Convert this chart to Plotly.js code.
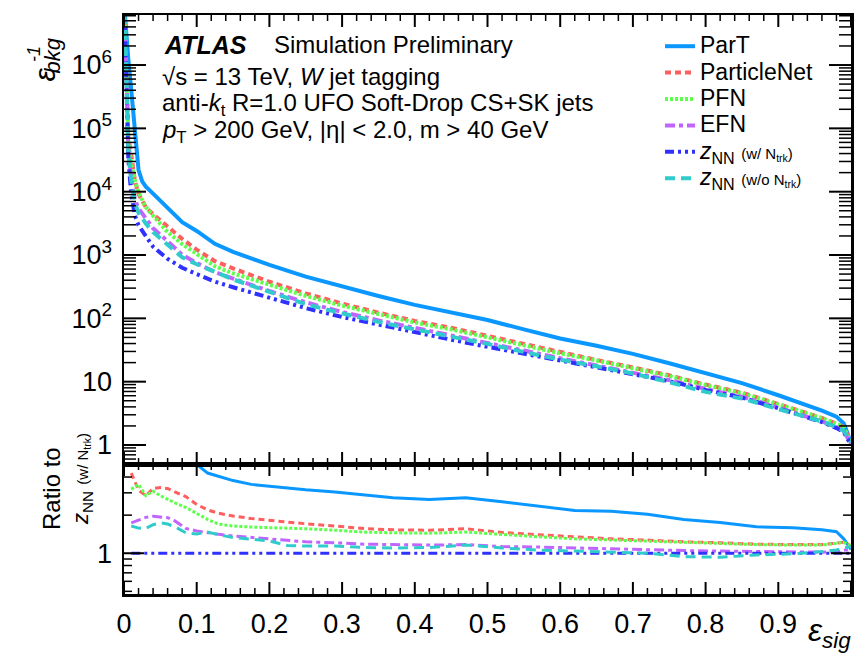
<!DOCTYPE html>
<html><head><meta charset="utf-8">
<script src="https://cdn.plot.ly/plotly-3.0.1.min.js"></script>
<style>body{margin:0;background:#fff}</style>
</head><body><div id="plot" style="width:856px;height:656px"></div>
<script>
// ---- data: signal efficiency grid and inverse background efficiency (upper panel)
const effSig = [0.001,0.003,0.006,0.01,0.015,0.02,0.025,0.03,0.04,0.06,0.08,0.1,0.125,0.15,0.2,0.25,0.3,0.35,0.4,0.45,0.5,0.55,0.6,0.65,0.7,0.75,0.8,0.85,0.9,0.93,0.96,0.98,0.99,1.0];
const partInvBkg = [7e6,3e6,1.2e6,4e5,1e5,2.2e4,1.45e4,1.2e4,9300,5400,3300,2400,1500,1120,700,455,318,225,163,126,94,67,48,37,27.5,19.5,13.5,9.5,6.1,4.7,3.5,2.8,2.2,1.1];
const particleNetInvBkg = [6.5e6,6e5,7e4,3.9e4,1.5e4,9150,7000,5700,4400,2830,1800,1215,800,614,378,248,171,123,91,71,53,39,29,22,16.8,12.6,9.0,6.7,4.45,3.5,2.67,2.18,1.92,1.1];
const pfnInvBkg = [6.2e6,5.5e5,6e4,2.9e4,1.5e4,9700,7200,5700,4170,2310,1490,1025,665,512,336,226,159,115,86,67,50,37.4,28,21.6,16.4,12.3,8.8,6.55,4.37,3.45,2.65,2.15,1.9,1.1];
const efnInvBkg = [6.6e6,5e5,4.5e4,1.57e4,7600,5450,4600,3900,2640,1650,1010,750,537,425,270,179,126,93,70,53.5,41,31,23.5,18.2,14,10.6,7.65,5.77,3.9,3.07,2.35,1.9,1.65,1.05];
const zNNwInvBkg = [6.3e6,4e5,3.2e4,9000,4200,2950,2400,2000,1350,870,630,500,380,310,209,145,105,79,60,46,35.5,27.5,21.4,17,13.2,10.2,7.4,5.6,3.8,3.0,2.3,1.85,1.6,1.0];
const zNNwoInvBkg = [6.4e6,4.5e5,4e4,1.48e4,6700,4600,3700,3150,2300,1480,920,715,535,412,262,167,120,88,67,52,39.5,29.5,22.3,17.5,13.5,9.8,6.9,5.4,3.75,3.0,2.35,1.92,1.68,1.1];

// ---- data: ratio to z_NN (w/ N_trk) (lower panel)
const ratioEffSig = [0.01,0.02,0.03,0.04,0.05,0.06,0.07,0.085,0.1,0.115,0.13,0.15,0.175,0.2,0.225,0.25,0.29,0.33,0.37,0.42,0.47,0.52,0.57,0.62,0.67,0.72,0.77,0.82,0.87,0.92,0.96,0.98,0.99,1.0];
const partRatio = [20,9,7,7,6.5,6.2,6.0,5.7,5.05,4.3,4.05,3.75,3.5,3.38,3.25,3.17,3.05,2.9,2.75,2.66,2.74,2.55,2.35,2.18,2.15,2.03,1.85,1.75,1.62,1.59,1.53,1.48,1.3,1.07];
const particleNetRatio = [4.3,3.15,2.85,3.25,3.3,3.25,3.05,2.8,2.43,2.2,2.07,1.97,1.88,1.81,1.76,1.71,1.63,1.57,1.53,1.52,1.56,1.46,1.4,1.34,1.3,1.27,1.23,1.21,1.18,1.17,1.17,1.2,1.22,1.15];
const pfnRatio = [3.2,3.5,2.85,3.09,2.85,2.66,2.5,2.3,2.05,1.85,1.7,1.64,1.61,1.6,1.58,1.56,1.52,1.47,1.45,1.44,1.47,1.4,1.35,1.3,1.27,1.24,1.21,1.19,1.17,1.16,1.16,1.2,1.22,1.15];
const efnRatio = [1.74,1.82,1.92,1.96,1.94,1.91,1.8,1.57,1.5,1.45,1.41,1.37,1.33,1.29,1.25,1.23,1.21,1.18,1.17,1.16,1.17,1.13,1.12,1.1,1.08,1.07,1.05,1.04,1.03,1.03,1.02,1.03,1.05,1.08];
const zNNwRatio = [1,1,1,1,1,1,1,1,1,1,1,1,1,1,1,1,1,1,1,1,1,1,1,1,1,1,1,1,1,1,1,1,1,1];
const zNNwoRatio = [1.64,1.58,1.57,1.68,1.74,1.7,1.62,1.45,1.42,1.47,1.4,1.33,1.29,1.25,1.15,1.14,1.14,1.11,1.1,1.11,1.16,1.1,1.06,1.04,1.03,1.0,0.94,0.93,0.97,0.99,1.03,1.06,1.1,1.13];

const modelNames = [
  "ParT",
  "ParticleNet",
  "PFN",
  "EFN",
  "<i>z</i><sub>NN</sub> <span style='font-size:15px'>(w/ N<sub>trk</sub>)</span>",
  "<i>z</i><sub>NN</sub> <span style='font-size:15px'>(w/o N<sub>trk</sub>)</span>"
];
const yTickVals = [1,10,100,1000,10000,100000,1000000];
const yTickText = ["1","10","10<sup>2</sup>","10<sup>3</sup>","10<sup>4</sup>","10<sup>5</sup>","10<sup>6</sup>"];

// ---- styles
const styles = [
  {color:"#0a97ff", width:4, dash:"solid"},
  {color:"#ff5e5e", width:4, dash:"6px,4px"},
  {color:"#5cff4a", width:4, dash:"3px,2px"},
  {color:"#c265ff", width:4, dash:"10px,4px,4px,4px"},
  {color:"#3030ff", width:4, dash:"9px,4px,3px,4px,3px,4px"},
  {color:"#30cccc", width:4, dash:"10px,6px"}
];
const mainSeries = [partInvBkg, particleNetInvBkg, pfnInvBkg, efnInvBkg, zNNwInvBkg, zNNwoInvBkg];
const ratioSeries = [partRatio, particleNetRatio, pfnRatio, efnRatio, zNNwRatio, zNNwoRatio];

const traces = [];
mainSeries.forEach((ys, i) => {
  traces.push({x: effSig, y: ys, xaxis:"x2", yaxis:"y2", mode:"lines",
    name: "<span style='font-size:23px'>" + modelNames[i] + "</span>",
    line: {color: styles[i].color, width: styles[i].width, dash: styles[i].dash}, showlegend:true});
});
ratioSeries.forEach((ys, i) => {
  traces.push({x: ratioEffSig, y: ys, xaxis:"x", yaxis:"y", mode:"lines", name: modelNames[i],
    line: {color: styles[i].color, width: 3, dash: styles[i].dash}, showlegend:false});
});

// pixel -> paper helpers (plot area: x 124..851, y 15..594)
const L = 124, R = 851, T = 15, B = 594;
const px = v => (v - L) / (R - L);
const py = v => (B - v) / (B - T);
const split = py(464);
const mainRange = [-0.30, 6.79];
const ratioRange = [-0.322, 0.705];

// ---- axis tick marks as line shapes anchored to the axes (inside ticks on all four sides)
const shapes = [];
function xTick(xref, yref, v, len, w) {
  [0, 1].forEach(side => shapes.push({type:"line", layer:"above", xref:xref, x0:v, x1:v,
    yref:yref + " domain", ysizemode:"pixel", yanchor:side, y0:0, y1:side === 0 ? len : -len,
    line:{color:"#000", width:w}}));
}
function yTick(xref, yref, range, v, len, w) {
  const f = (Math.log10(v) - range[0]) / (range[1] - range[0]);
  if (f < 0 || f > 1) return;
  [0, 1].forEach(side => shapes.push({type:"line", layer:"above", yref:yref + " domain", y0:f, y1:f,
    xref:xref + " domain", xsizemode:"pixel", xanchor:side, x0:0, x1:side === 0 ? len : -len,
    line:{color:"#000", width:w}}));
}
for (let k = 0; k <= 50; k++) {
  const v = k / 50, major = (k % 5 === 0);
  xTick("x", "y", v, major ? 12 : 6, major ? 2 : 1.5);
  xTick("x2", "y2", v, major ? 12 : 6, major ? 2 : 1.5);
}
for (let e = -1; e <= 7; e++) {
  for (let m = 1; m <= 9; m++) {
    const v = m * Math.pow(10, e);
    yTick("x2", "y2", mainRange, v, m === 1 ? 22 : 12, m === 1 ? 2 : 1.5);
  }
}
[0.5, 0.6, 0.7, 0.8, 0.9, 2, 3, 4, 5].forEach(v => yTick("x", "y", ratioRange, v, 8, 1.5));
yTick("x", "y", ratioRange, 1, 20, 2);

const FONT = "Liberation Sans, Arial, Helvetica, sans-serif";
const axisCommon = {showline:true, linecolor:"#000", linewidth:2.5, mirror:true,
  ticks:"", showgrid:false, zeroline:false};

const layout = {
  width:856, height:656,
  margin:{l:L, r:856-R, t:T, b:656-B},
  paper_bgcolor:"#fff", plot_bgcolor:"#fff",
  font:{family:FONT, color:"#000"},
  showlegend:true,
  legend:{x:px(660), y:py(28), xanchor:"left", yanchor:"top", bgcolor:"rgba(0,0,0,0)",
    font:{size:18, family:FONT}, tracegroupgap:0, itemwidth:30},
  xaxis: Object.assign({}, axisCommon, {domain:[0,1], range:[0,1], anchor:"y", dtick:0.1, tick0:0,
    tickfont:{size:27, family:FONT}, ticklabelstandoff:4}),
  xaxis2: Object.assign({}, axisCommon, {domain:[0,1], range:[0,1], anchor:"y2", matches:"x", dtick:0.1, tick0:0,
    showticklabels:false}),
  yaxis: Object.assign({}, axisCommon, {type:"log", domain:[0, split], range:ratioRange, anchor:"x",
    tickmode:"array", tickvals:[1], ticktext:["1"], tickfont:{size:27, family:FONT}, ticklabelstandoff:4}),
  yaxis2: Object.assign({}, axisCommon, {type:"log", domain:[split, 1], range:mainRange, anchor:"x2",
    tickmode:"array", tickvals:yTickVals, ticktext:yTickText, tickfont:{size:27, family:FONT}, ticklabelstandoff:4}),
  shapes: shapes,
  annotations: [
    {xref:"paper", yref:"paper", x:px(162), y:py(45), xanchor:"left", yanchor:"middle", showarrow:false,
      text:"<b><i>ATLAS</i></b>", font:{size:25, family:FONT}},
    {xref:"paper", yref:"paper", x:px(272), y:py(45), xanchor:"left", yanchor:"middle", showarrow:false,
      text:"Simulation Preliminary", font:{size:24, family:FONT}},
    {xref:"paper", yref:"paper", x:px(160), y:py(76), xanchor:"left", yanchor:"middle", showarrow:false,
      text:"√s = 13 TeV, <i>W</i> jet tagging", font:{size:24, family:FONT}},
    {xref:"paper", yref:"paper", x:px(160), y:py(104), xanchor:"left", yanchor:"middle", showarrow:false,
      text:"anti-<i>k</i><sub>t</sub> R=1.0 UFO Soft-Drop CS+SK jets", font:{size:24, family:FONT}},
    {xref:"paper", yref:"paper", x:px(160), y:py(131), xanchor:"left", yanchor:"middle", showarrow:false,
      text:"<i>p</i><sub>T</sub> &gt; 200 GeV, |η| &lt; 2.0, m &gt; 40 GeV", font:{size:24, family:FONT}},
    // y-axis title (upper)
    {xref:"paper", yref:"paper", x:px(26), y:py(66), showarrow:false, textangle:-90,
      text:"<i>ε</i>", font:{size:30, family:FONT}},
    {xref:"paper", yref:"paper", x:px(22), y:py(44), showarrow:false, textangle:-90,
      text:"<i>-1</i>", font:{size:18, family:FONT}},
    {xref:"paper", yref:"paper", x:px(37), y:py(36), showarrow:false, textangle:-90,
      text:"<i>bkg</i>", font:{size:22, family:FONT}},
    // y-axis title (ratio)
    {xref:"paper", yref:"paper", x:px(36), y:py(532), showarrow:false, textangle:-90,
      text:"Ratio to", font:{size:24, family:FONT}},
    {xref:"paper", yref:"paper", x:px(66), y:py(527), showarrow:false, textangle:-90,
      text:"<i>z</i><sub>NN</sub> <span style='font-size:15px'>(w/ N<sub>trk</sub>)</span>", font:{size:22, family:FONT}},
    // x-axis title
    {xref:"paper", yref:"paper", x:px(853), y:py(655), xanchor:"right", yanchor:"bottom", showarrow:false,
      text:"<i>ε</i><sub><i>sig</i></sub>", font:{size:32, family:FONT}}
  ]
};

Plotly.newPlot("plot", traces, layout, {displayModeBar:false, staticPlot:true});
</script>
</body></html>
